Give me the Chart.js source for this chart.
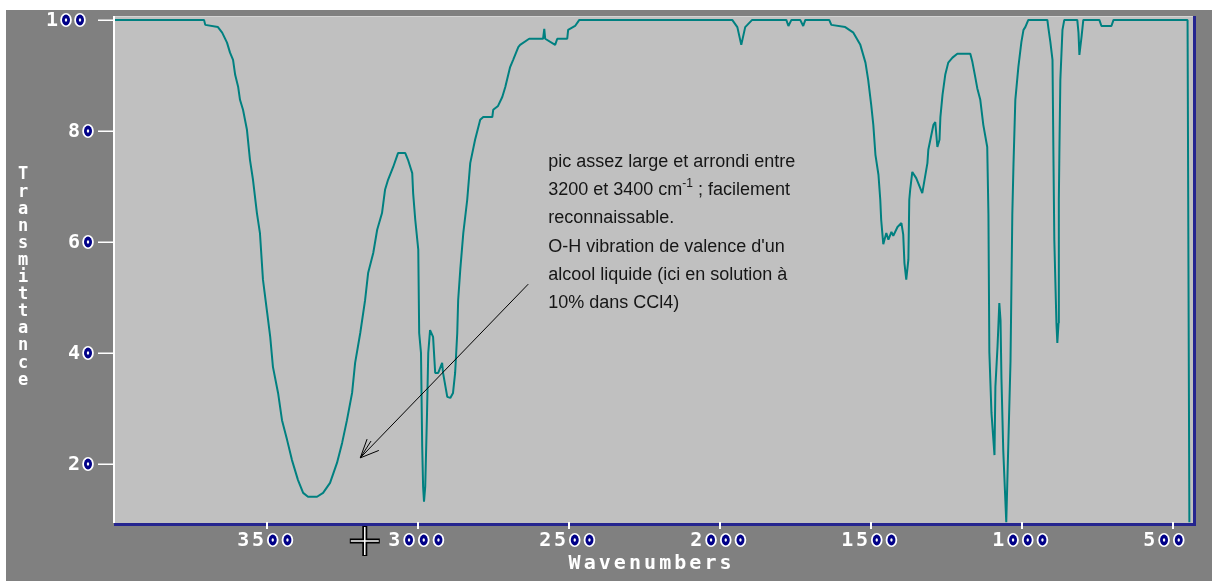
<!DOCTYPE html>
<html>
<head>
<meta charset="utf-8">
<script src="https://cdn.jsdelivr.net/npm/chart.js@4.4.1/dist/chart.umd.min.js"></script>
<style>
  html, body { margin: 0; padding: 0; background: #fff; }
  #wrap { width: 1212px; height: 581px; }
</style>
</head>
<body>
<div id="wrap"><canvas id="irSpectrum" width="1212" height="581"></canvas></div>
<script>
// IR spectrum values (wavenumber in cm-1, transmittance in %)
const wavenumbers = [
  4005, 3707, 3703, 3661, 3647, 3631, 3621, 3611, 3604, 3594,
  3588, 3578, 3565, 3555, 3545, 3532, 3522, 3512, 3498, 3488,
  3479, 3462, 3449, 3432, 3416, 3396, 3379, 3363, 3333, 3313,
  3290, 3267, 3250, 3234, 3217, 3207, 3190, 3174, 3164, 3147,
  3134, 3118, 3108, 3098, 3081, 3065, 3041, 3032, 3018, 3015,
  3008, 2998, 2995, 2989, 2985, 2982, 2979, 2975, 2969, 2965,
  2959, 2949, 2942, 2932, 2919, 2916, 2902, 2892, 2883, 2876,
  2869, 2866, 2859, 2849, 2836, 2826, 2810, 2793, 2783, 2753,
  2750, 2734, 2720, 2710, 2694, 2684, 2667, 2661, 2631, 2585,
  2581, 2578, 2545, 2538, 2505, 2502, 2479, 2465, 1959, 1942,
  1929, 1916, 1893, 1780, 1773, 1763, 1734, 1724, 1717, 1638,
  1631, 1585, 1558, 1535, 1518, 1509, 1499, 1492, 1485, 1475,
  1469, 1466, 1459, 1449, 1442, 1432, 1426, 1412, 1399, 1393,
  1389, 1383, 1376, 1373, 1370, 1363, 1350, 1330, 1313, 1310,
  1293, 1287, 1280, 1273, 1270, 1263, 1254, 1244, 1230, 1214,
  1171, 1164, 1154, 1148, 1138, 1128, 1115, 1111, 1108, 1101,
  1091, 1088, 1081, 1075, 1071, 1068, 1062, 1052, 1045, 1038,
  1032, 1028, 1022, 1012, 1002, 995, 989, 979, 916, 913,
  906, 899, 896, 893, 886, 883, 879, 878, 876, 873,
  866, 860, 817, 813, 810, 803, 797, 744, 737, 704,
  697, 452, 446
];
const transmittance = [
  100, 100, 99.1, 98.7, 97.7, 95.9, 94.1, 92.8, 90.1, 87.9,
  85.6, 83.8, 80.2, 74.8, 71.2, 65.2, 61.6, 53.2, 47.2, 42.9,
  37.5, 32.8, 27.9, 24.3, 20.7, 17.1, 14.8, 14.1, 14.1, 14.8,
  16.6, 20.2, 23.8, 27.9, 32.8, 38.2, 43.6, 49.5, 54.4, 58.0,
  62.2, 65.2, 69.4, 71.2, 73.5, 76.0, 76.0, 74.8, 72.4, 68.8,
  64.0, 58.6, 43.6, 40.0, 23.1, 15.9, 13.2, 15.9, 29.2, 40.0,
  44.1, 42.9, 36.4, 36.4, 38.2, 36.4, 32.1, 31.9, 32.8, 36.4,
  43.6, 49.5, 55.0, 61.6, 67.6, 74.2, 78.4, 82.0, 82.5, 82.5,
  83.8, 84.5, 86.1, 87.9, 91.5, 92.8, 95.1, 95.5, 96.6, 96.6,
  98.4, 96.6, 95.5, 96.6, 96.6, 98.2, 98.9, 100, 100, 98.7,
  95.5, 98.7, 100, 100, 98.9, 100, 100, 98.9, 100, 100,
  99.1, 98.7, 97.7, 95.5, 92.3, 89.2, 84.7, 81.1, 75.7, 72.1,
  67.6, 64.0, 59.6, 61.6, 60.4, 61.8, 61.1, 62.7, 63.4, 61.3,
  56.2, 53.2, 56.8, 67.6, 69.4, 72.6, 71.5, 68.8, 74.2, 76.6,
  81.1, 81.6, 77.1, 78.4, 82.5, 86.5, 90.1, 92.3, 93.2, 93.9,
  93.9, 92.4, 89.5, 87.7, 85.6, 81.1, 77.1, 64.9, 40.2, 29.2,
  21.6, 33.9, 41.1, 49.0, 45.9, 35.5, 22.5, 9.5, 24.0, 38.4,
  64.9, 74.2, 85.6, 91.5, 96.0, 98.2, 98.7, 100, 100, 98.7,
  96.0, 92.8, 76.0, 60.4, 45.4, 41.8, 45.4, 67.6, 77.1, 89.2,
  98.2, 100, 100, 97.7, 93.7, 96.9, 100, 100, 98.9, 98.9,
  100, 100, 9.5
];

const xTicks = [3500, 3000, 2500, 2000, 1500, 1000, 500];
const yTicks = [20, 40, 60, 80, 100];
const xTitle = 'Wavenumbers';
const yTitle = 'Transmittance';

// annotation, anchored in data units
const noteLines = [
  ['pic assez large et arrondi entre'],
  ['3200 et 3400 cm', '-1', ' ; facilement'],
  ['reconnaissable.'],
  ["O-H vibration de valence d'un"],
  ['alcool liquide (ici en solution à'],
  ['10% dans CCl4)']
];
const noteAt = { wn: 2568, t: 73.5 };
const arrowFrom = { wn: 2634, t: 52.4 };
const arrowTo = { wn: 3190, t: 21.1 };

const BLUE = '#25258f';
const TEAL = '#008080';

// draws a label one glyph at a time, the zeros in blue as on the old plotter screen
function drawGlyphs(ctx, text, x, yMid, adv, size) {
  ctx.font = 'bold ' + size + 'px "DejaVu Sans Mono"';
  ctx.textAlign = 'center';
  ctx.textBaseline = 'middle';
  for (let i = 0; i < text.length; i++) {
    const cx = x + adv * i + adv / 2;
    if (text[i] === '0') {
      ctx.fillStyle = '#ffffff';
      ctx.beginPath(); ctx.ellipse(cx, yMid, 5.8, 7, 0, 0, Math.PI * 2); ctx.fill();
      ctx.fillStyle = '#000088';
      ctx.beginPath(); ctx.ellipse(cx, yMid, 4, 5.4, 0, 0, Math.PI * 2); ctx.fill();
      ctx.fillStyle = '#ffffff';
      ctx.beginPath(); ctx.ellipse(cx, yMid, 1.2, 1.8, 0, 0, Math.PI * 2); ctx.fill();
    } else {
      ctx.fillStyle = '#ffffff';
      ctx.fillText(text[i], cx, yMid + 1);
    }
  }
}

const decor = {
  id: 'decor',
  beforeDraw(chart) {
    const { ctx, chartArea: a } = chart;
    ctx.save();
    ctx.fillStyle = '#ffffff';
    ctx.fillRect(0, 0, chart.width, chart.height);
    ctx.fillStyle = '#808080';
    ctx.fillRect(6, 10, chart.width - 6, chart.height - 10);
    ctx.fillStyle = '#c0c0c0';
    ctx.fillRect(a.left, a.top, a.right - a.left, a.bottom - a.top);
    ctx.restore();
  },
  afterDraw(chart) {
    const { ctx, chartArea: a } = chart;
    const xs = chart.scales.x, ys = chart.scales.y;
    ctx.save();

    // frame
    ctx.fillStyle = '#d4d4d4';
    ctx.fillRect(a.left, a.top, a.right - a.left, 1);
    ctx.fillStyle = '#ffffff';
    ctx.fillRect(a.left - 1, a.top, 2, a.bottom - a.top);
    ctx.fillStyle = BLUE;
    ctx.fillRect(a.left, a.bottom, a.right - a.left + 3, 3);
    ctx.fillRect(a.right, a.top, 3, a.bottom - a.top + 3);

    // y ticks and labels
    ys.ticks.forEach(t => {
      const y = Math.round(ys.getPixelForValue(t.value));
      ctx.fillStyle = '#ffffff';
      ctx.fillRect(98, y - 0.5, a.left - 98, 1.5);
      const s = String(t.value);
      const start = s.length > 2 ? 45 : 95 - 14 * s.length;
      drawGlyphs(ctx, s, start, y, 14, 20);
    });

    // x ticks and labels
    xs.ticks.forEach(t => {
      const x = Math.round(xs.getPixelForValue(t.value));
      ctx.fillStyle = '#ffffff';
      ctx.fillRect(x - 1, a.bottom - 1, 2, 7);
      drawGlyphs(ctx, String(t.value), x - 31, a.bottom + 17, 14.7, 20);
    });

    // axis titles
    drawGlyphs(ctx, xTitle, 567, a.bottom + 40, 15.1, 20);
    ctx.font = 'bold 17px "DejaVu Sans Mono"';
    ctx.fillStyle = '#ffffff';
    ctx.textAlign = 'center';
    ctx.textBaseline = 'middle';
    for (let i = 0; i < yTitle.length; i++) {
      ctx.fillText(yTitle[i], 23, 175 + i * 17.1);
    }

    // annotation text
    ctx.fillStyle = '#161616';
    ctx.textAlign = 'left';
    ctx.textBaseline = 'alphabetic';
    const tx = xs.getPixelForValue(noteAt.wn);
    let ty = ys.getPixelForValue(noteAt.t);
    noteLines.forEach(parts => {
      let cx = tx;
      parts.forEach((p, k) => {
        const sup = parts.length > 1 && k === 1;
        ctx.font = sup ? '12px "Liberation Sans"' : '18px "Liberation Sans"';
        ctx.fillText(p, cx, sup ? ty - 8 : ty);
        cx += ctx.measureText(p).width;
      });
      ty += 28.2;
    });

    // arrow
    const x0 = xs.getPixelForValue(arrowFrom.wn), y0 = ys.getPixelForValue(arrowFrom.t);
    const x1 = xs.getPixelForValue(arrowTo.wn), y1 = ys.getPixelForValue(arrowTo.t);
    ctx.strokeStyle = '#000000';
    ctx.lineWidth = 1;
    ctx.beginPath(); ctx.moveTo(x0, y0); ctx.lineTo(x1, y1); ctx.stroke();
    const ang = Math.atan2(y0 - y1, x0 - x1);
    [-0.42, -0.2, 0.42].forEach(d => {
      ctx.beginPath();
      ctx.moveTo(x1, y1);
      ctx.lineTo(x1 + 20 * Math.cos(ang + d), y1 + 20 * Math.sin(ang + d));
      ctx.stroke();
    });

    // cross-hair cursor sitting under the axis
    const cx = xs.getPixelForValue(3175), cy = a.bottom + 18;
    ctx.strokeStyle = '#000000';
    ctx.lineWidth = 5;
    ctx.beginPath();
    ctx.moveTo(cx - 15, cy); ctx.lineTo(cx + 15, cy);
    ctx.moveTo(cx, cy - 15); ctx.lineTo(cx, cy + 15);
    ctx.stroke();
    ctx.strokeStyle = '#ffffff';
    ctx.lineWidth = 1.5;
    ctx.beginPath();
    ctx.moveTo(cx - 14, cy); ctx.lineTo(cx + 14, cy);
    ctx.moveTo(cx, cy - 14); ctx.lineTo(cx, cy + 14);
    ctx.stroke();

    ctx.restore();
  }
};

const points = wavenumbers.map((w, i) => ({ x: w, y: transmittance[i] }));

new Chart(document.getElementById('irSpectrum'), {
  type: 'line',
  data: {
    datasets: [{
      data: points,
      borderColor: TEAL,
      borderWidth: 2,
      borderJoinStyle: 'bevel',
      pointRadius: 0,
      tension: 0,
      fill: false
    }]
  },
  options: {
    responsive: false,
    animation: false,
    devicePixelRatio: 1,
    layout: { padding: { top: 16, right: 19, left: 0, bottom: 0 } },
    plugins: { legend: { display: false }, tooltip: { enabled: false } },
    scales: {
      x: {
        type: 'linear',
        reverse: true,
        min: 434,
        max: 4005,
        grid: { display: false },
        border: { display: false },
        ticks: { display: false },
        afterBuildTicks: s => { s.ticks = xTicks.map(v => ({ value: v })); },
        afterFit: s => { s.height = 58; }
      },
      y: {
        min: 9.37,
        max: 100.7,
        grid: { display: false },
        border: { display: false },
        ticks: { display: false },
        afterBuildTicks: s => { s.ticks = yTicks.map(v => ({ value: v })); },
        afterFit: s => { s.width = 114; }
      }
    }
  },
  plugins: [decor]
});
</script>
</body>
</html>
